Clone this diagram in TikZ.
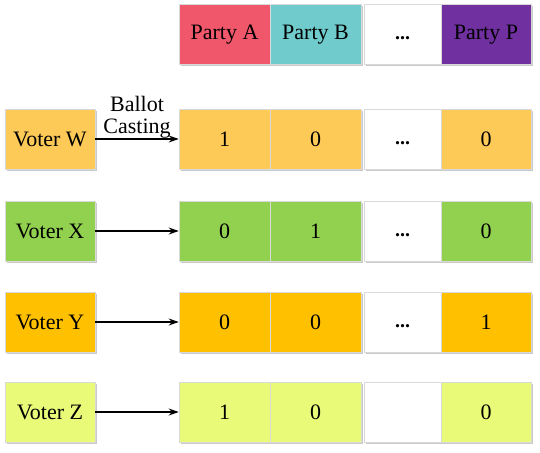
\documentclass[tikz,border=0pt]{standalone}
\usepackage{fontspec}
\setmainfont{Liberation Serif}
\usetikzlibrary{shadows,arrows.meta}
\definecolor{partyA}{RGB}{240,87,106}
\definecolor{partyB}{RGB}{111,203,204}
\definecolor{partyP}{RGB}{112,48,160}
\definecolor{rowW}{RGB}{253,202,88}
\definecolor{rowX}{RGB}{146,208,80}
\definecolor{rowY}{RGB}{255,192,0}
\definecolor{rowZ}{RGB}{232,250,120}
\tikzset{
  box/.style={minimum height=60pt, inner sep=0pt, draw=black!15, line width=0.6pt,
    font=\fontsize{22}{24}\selectfont,
    drop shadow={shadow xshift=1.5pt, shadow yshift=-1.5pt, opacity=0.35, fill=black!60}},
  cA/.style={box, minimum width=91pt},
  cB/.style={box, minimum width=91pt},
  cC/.style={box, minimum width=77pt, fill=white},
  cD/.style={box, minimum width=90pt},
  voter/.style={box, minimum width=90pt},
  dots/.style={font=\fontsize{20}{22}\selectfont\bfseries, inner sep=0pt},
  cast/.style={-{Stealth[length=10pt,width=7pt]}, line width=1.3pt}
}
\begin{document}
\begin{tikzpicture}[x=1pt,y=-1pt]
\useasboundingbox (0,0) rectangle (540,452);
% header
\node[cA, fill=partyA] (hA) at (224.5,34.5) {Party A};
\node[cB, fill=partyB] (hB) at (315.5,34.5) {Party B};
\node[cC] (hC) at (402.5,34.5) {};
\node[dots] (hCd) at (402.5,38) {...};
\node[cD, fill=partyP] (hD) at (486,34.5) {Party P};
% row W
\node[voter, fill=rowW] (vW) at (50,139) {Voter W};
\node[cA, fill=rowW] (wA) at (224.5,139) {1};
\node[cB, fill=rowW] (wB) at (315.5,139) {0};
\node[cC] (wC) at (402.5,139) {};
\node[dots] (wCd) at (402.5,143) {...};
\node[cD, fill=rowW] (wD) at (486,139) {0};
\draw[cast] (vW) -- node[above, align=center, inner sep=0pt, font=\fontsize{22}{22}\selectfont] (lbl) {Ballot\\Casting} (wA);
% row X
\node[voter, fill=rowX] (vX) at (50,231) {Voter X};
\node[cA, fill=rowX] (xA) at (224.5,231) {0};
\node[cB, fill=rowX] (xB) at (315.5,231) {1};
\node[cC] (xC) at (402.5,231) {};
\node[dots] (xCd) at (402.5,235) {...};
\node[cD, fill=rowX] (xD) at (486,231) {0};
\draw[cast] (vX) -- (xA);
% row Y
\node[voter, fill=rowY] (vY) at (50,322) {Voter Y};
\node[cA, fill=rowY] (yA) at (224.5,322) {0};
\node[cB, fill=rowY] (yB) at (315.5,322) {0};
\node[cC] (yC) at (402.5,322) {};
\node[dots] (yCd) at (402.5,326) {...};
\node[cD, fill=rowY] (yD) at (486,322) {1};
\draw[cast] (vY) -- (yA);
% row Z
\node[voter, fill=rowZ] (vZ) at (50,412) {Voter Z};
\node[cA, fill=rowZ] (zA) at (224.5,412) {1};
\node[cB, fill=rowZ] (zB) at (315.5,412) {0};
\node[cC] (zC) at (402.5,412) {};
\node[cD, fill=rowZ] (zD) at (486,412) {0};
\draw[cast] (vZ) -- (zA);
\end{tikzpicture}
\end{document}
